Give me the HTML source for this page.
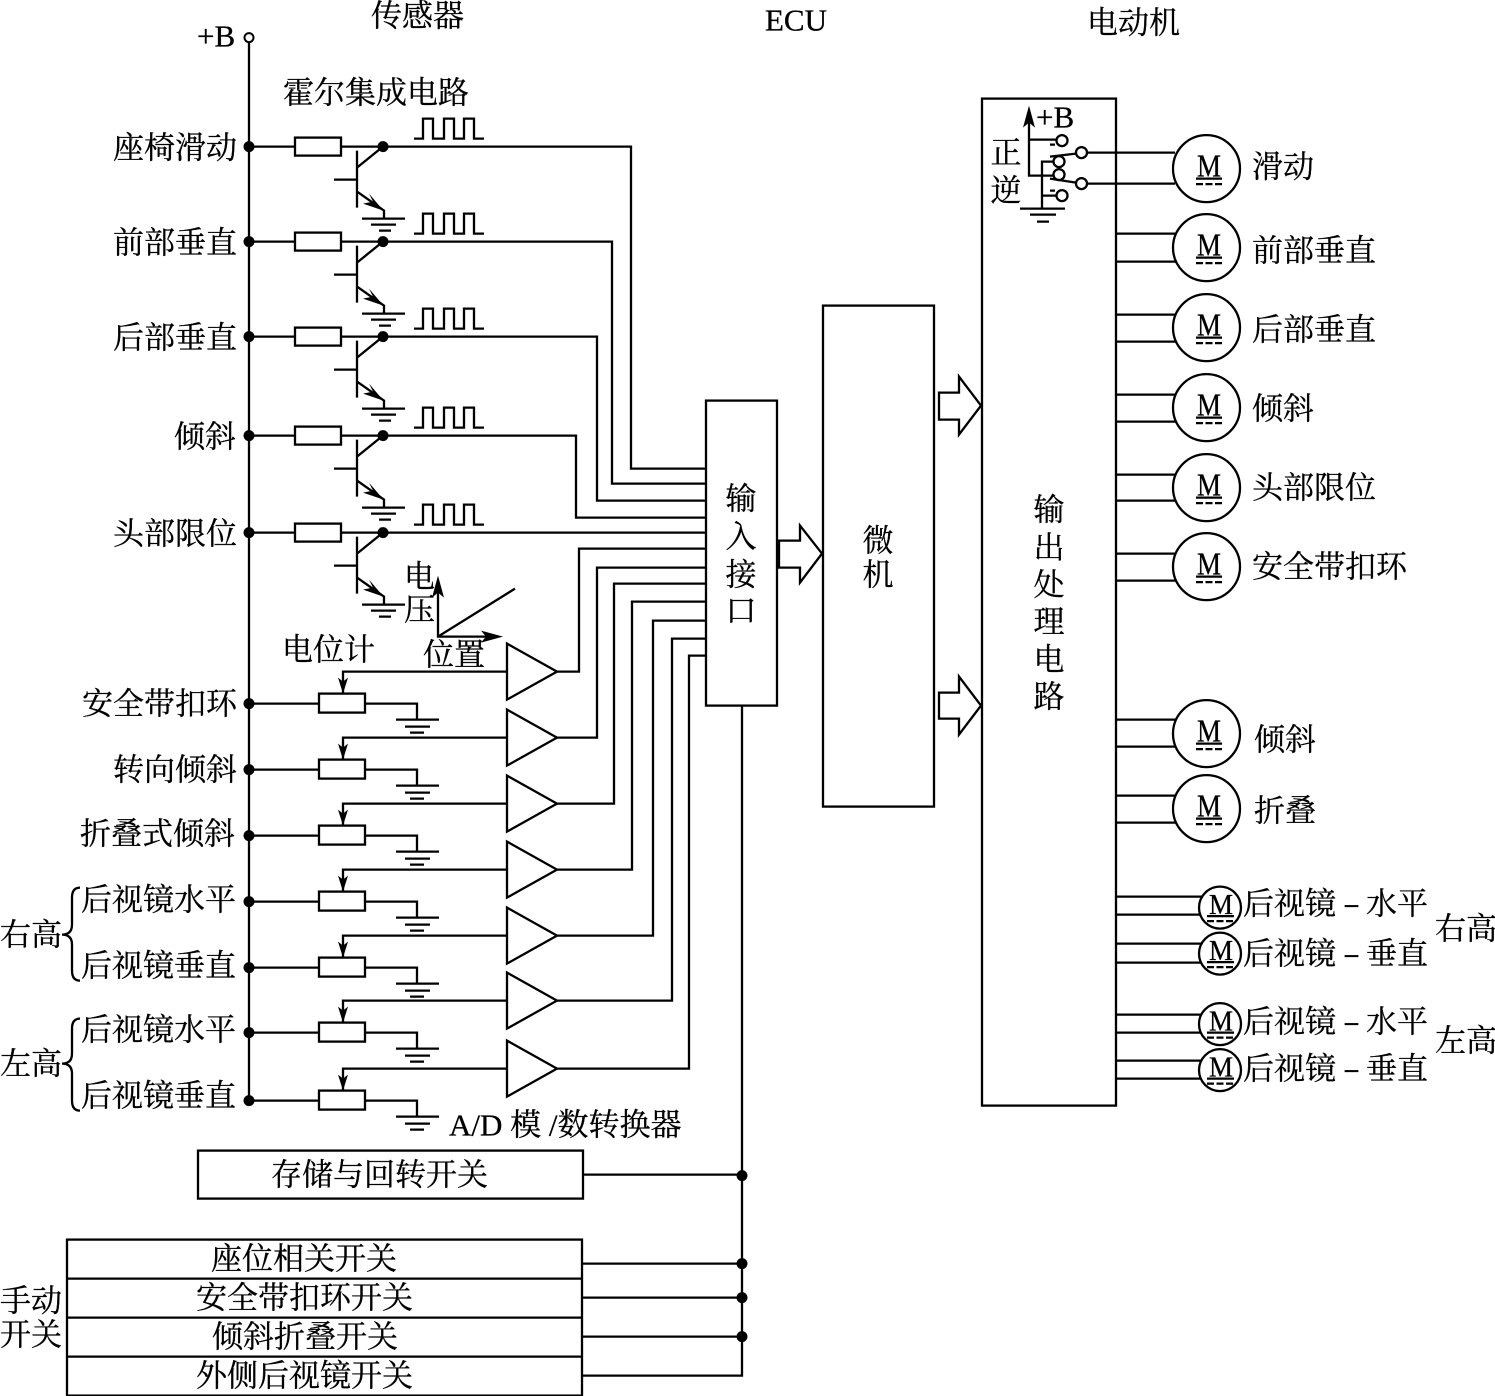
<!DOCTYPE html>
<html lang="zh"><head><meta charset="utf-8"><title>座椅与后视镜控制系统</title>
<style>
html,body{margin:0;padding:0;background:#fff}
svg{display:block}
text{fill:#000;stroke:#000;stroke-width:.3px;font-family:"Liberation Serif","Noto Serif CJK SC",serif;font-size:31px}
.c{text-anchor:middle}
.l{font-family:"Liberation Serif",serif}
.m{font-family:"Liberation Serif",serif;font-size:32px;text-anchor:middle}
.ms{font-family:"Liberation Serif",serif;font-size:28px;text-anchor:middle}
.d{font-family:"Liberation Serif",serif;font-size:26px;font-weight:bold}
</style></head><body>
<svg xmlns="http://www.w3.org/2000/svg" xmlns:xlink="http://www.w3.org/1999/xlink" width="1495" height="1396" viewBox="0 0 1495 1396">
<defs>
<g id="t" fill="none" stroke="#000" stroke-width="2.3">
<path d="M249 0H295M341 0H383"/>
<rect x="295" y="-9" width="46" height="18" fill="#fff"/>
<path d="M357 4V61M334 33H357M357 21L383 0M357 45L384 64V72M362 72H405M371 78H396M379 84H391"/>
<polygon points="383.5,64 369,47 373,55 363,57" fill="#000" stroke="none"/>
<circle cx="383" cy="0" r="5.5" fill="#000" stroke="none"/>
<path d="M414 -8H423V-28H433V-8H444V-28H454V-8H464V-28H474V-8H484"/>
</g>
<g id="p" fill="none" stroke="#000" stroke-width="2.3">
<path d="M249 0H319M365 0H417V16M396 16H439M405 23H430M410 29H424M343 -10V-32H507"/>
<rect x="319" y="-10" width="46" height="19" fill="#fff"/>
<polygon points="343,-10 338,-26 343,-22 348,-26" fill="#000" stroke="none"/>
<polygon points="507,-60 507,-4 557,-32" fill="#fff"/>
</g>
<g id="mb">
<circle r="33.5" fill="#fff" stroke="#000" stroke-width="2.3"/>
<text class="m" x="2.5" y="8" textLength="24" lengthAdjust="spacingAndGlyphs">M</text>
<path d="M-10.5 10H15.5" stroke="#000" stroke-width="2.3"/>
<path d="M-10.5 15.5H15.5" stroke="#000" stroke-width="2.3" stroke-dasharray="7 2.5"/>
</g>
<g id="ms">
<circle r="21" fill="#fff" stroke="#000" stroke-width="2.3"/>
<text class="ms" x="1" y="6.5" textLength="24" lengthAdjust="spacingAndGlyphs">M</text>
<path d="M-13 8.5H14" stroke="#000" stroke-width="2.3"/>
<path d="M-13 13.5H14" stroke="#000" stroke-width="2.3" stroke-dasharray="7 2.5"/>
</g>
</defs>
<rect width="1495" height="1396" fill="#fff"/>
<g transform="translate(0,0.6)">

<!-- bus -->
<path d="M249 42V1100" stroke="#000" stroke-width="2.3" fill="none"/>
<circle cx="249" cy="37" r="4.5" fill="#fff" stroke="#000" stroke-width="2"/>

<use xlink:href="#t" y="146"/><use xlink:href="#t" y="241"/><use xlink:href="#t" y="336"/><use xlink:href="#t" y="435"/><use xlink:href="#t" y="532"/>
<use xlink:href="#p" y="703"/><use xlink:href="#p" y="769"/><use xlink:href="#p" y="835"/><use xlink:href="#p" y="901"/><use xlink:href="#p" y="967"/><use xlink:href="#p" y="1032"/><use xlink:href="#p" y="1100"/>

<g fill="#000">
<circle cx="249" cy="146" r="5.5"/><circle cx="249" cy="241" r="5.5"/><circle cx="249" cy="336" r="5.5"/><circle cx="249" cy="435" r="5.5"/><circle cx="249" cy="532" r="5.5"/>
<circle cx="249" cy="703" r="5.5"/><circle cx="249" cy="769" r="5.5"/><circle cx="249" cy="835" r="5.5"/><circle cx="249" cy="901" r="5.5"/><circle cx="249" cy="967" r="5.5"/><circle cx="249" cy="1032" r="5.5"/><circle cx="249" cy="1100" r="5.5"/>
<circle cx="742" cy="1175" r="5.5"/><circle cx="742" cy="1263" r="5.5"/><circle cx="742" cy="1297" r="5.5"/><circle cx="742" cy="1336" r="5.5"/>
</g>

<!-- wires to input interface -->
<g fill="none" stroke="#000" stroke-width="2.3">
<path d="M383 146H631V468H706"/>
<path d="M383 241H612V483H706"/>
<path d="M383 336H597V500H706"/>
<path d="M383 435H576V517H706"/>
<path d="M383 532H706"/>
<path d="M557 671H579V548H706"/>
<path d="M557 737H597V567H706"/>
<path d="M557 803H614V583H706"/>
<path d="M557 869H632V601H706"/>
<path d="M557 935H653V620H706"/>
<path d="M557 1000H672V638H706"/>
<path d="M557 1068H689V655H706"/>
<rect x="706" y="400" width="71" height="305" fill="#fff"/>
<rect x="823" y="305" width="111" height="501"/>
<rect x="982" y="98" width="134" height="1007"/>
<path d="M779 540H800V525L822 553L800 582V567H779Z"/>
<path d="M939 392H959V376L981 405L959 434V419H939Z"/>
<path d="M939 692H959V676L981 705L959 734V718H939Z"/>
<!-- voltage graph -->
<path d="M438 580V636H498M438 636L515 588"/>
<!-- braces -->
<path d="M80 887Q72 887 72 897V924Q72 934 62 934Q72 934 72 944V970Q72 980 80 980"/>
<path d="M80 1018Q72 1018 72 1028V1053Q72 1063 62 1063Q72 1063 72 1073V1100Q72 1110 80 1110"/>
<!-- switches -->
<rect x="198" y="1150" width="385" height="48"/>
<rect x="67" y="1239" width="515" height="156"/>
<path d="M67 1278H582M67 1317H582M67 1356H582"/>
<path d="M742 705V1375H582M583 1174H742M582 1263H742M582 1297H742M582 1336H742"/>
<!-- relay -->
<path d="M1029 120V175H1054M1029 139H1056M1042 208V161H1053M1042 195H1056M1020 208H1065M1030 214H1056M1037 221H1049"/>
<path d="M1076 153L1050 156M1076 182L1050 178M1050 144H1055M1050 190H1055"/>
<path d="M1087 152H1175M1087 183H1175"/>
<circle cx="1062" cy="140" r="5.5"/><circle cx="1059" cy="161" r="5.5"/><circle cx="1059" cy="174" r="5.5"/><circle cx="1062" cy="195" r="5.5"/>
<circle cx="1081.5" cy="152" r="5.5"/><circle cx="1081.5" cy="183" r="5.5"/>
<!-- motor wires -->
<path d="M1116 233H1178M1116 261H1178M1116 314H1178M1116 341H1178M1116 394H1178M1116 421H1178M1116 474H1178M1116 500H1178M1116 553H1178M1116 580H1178M1116 719H1178M1116 746H1178M1116 795H1178M1116 822H1178"/>
<path d="M1116 896H1204M1116 914H1204M1116 943H1204M1116 962H1204M1116 1014H1204M1116 1032H1204M1116 1060H1204M1116 1078H1204"/>
</g>
<polygon points="1029,105 1023,127 1029,122 1035,127" fill="#000"/>
<polygon points="438,575 432,597 438,592 444,597" fill="#000"/>
<polygon points="503,636 481,630 486,636 481,642" fill="#000"/>

<use xlink:href="#mb" x="1206.5" y="168"/><use xlink:href="#mb" x="1206.5" y="247"/><use xlink:href="#mb" x="1206.5" y="327"/><use xlink:href="#mb" x="1206.5" y="407"/><use xlink:href="#mb" x="1206.5" y="487"/><use xlink:href="#mb" x="1206.5" y="566"/><use xlink:href="#mb" x="1206.5" y="733"/><use xlink:href="#mb" x="1206.5" y="808"/>
<use xlink:href="#ms" x="1220" y="907"/><use xlink:href="#ms" x="1220" y="953"/><use xlink:href="#ms" x="1220" y="1023.5"/><use xlink:href="#ms" x="1220" y="1069.5"/>

<!-- labels -->
<text class="l" x="197" y="46">+B</text>
<text x="371" y="26">传感器</text>
<text class="l" x="765" y="30">ECU</text>
<text x="1087" y="33">电动机</text>
<text x="283" y="103">霍尔集成电路</text>

<text x="113" y="158">座椅滑动</text>
<text x="113" y="253">前部垂直</text>
<text x="113" y="348">后部垂直</text>
<text x="174" y="447">倾斜</text>
<text x="113" y="544">头部限位</text>
<text x="82" y="714">安全带扣环</text>
<text x="113" y="780">转向倾斜</text>
<text x="80" y="844">折叠式倾斜</text>
<text x="81" y="910">后视镜水平</text>
<text x="81" y="976">后视镜垂直</text>
<text x="81" y="1040">后视镜水平</text>
<text x="81" y="1106">后视镜垂直</text>
<text x="0" y="945">右高</text>
<text x="0" y="1074">左高</text>
<text x="282" y="660">电位计</text>
<text x="404" y="587">电</text>
<text x="404" y="620">压</text>
<text x="423" y="665">位置</text>
<text x="449" y="1135">A/D 模 /数转换器</text>

<text x="271" y="1185">存储与回转开关</text>
<text x="211" y="1269">座位相关开关</text>
<text x="196" y="1308">安全带扣环开关</text>
<text x="212" y="1347">倾斜折叠开关</text>
<text x="196" y="1386">外侧后视镜开关</text>
<text x="0" y="1311">手动</text>
<text x="0" y="1345">开关</text>

<text class="c" x="741" y="509">输</text><text class="c" x="741" y="547">入</text><text class="c" x="741" y="585">接</text><text class="c" x="741" y="621">口</text>
<text class="c" x="878" y="551">微</text><text class="c" x="878" y="585">机</text>
<text class="c" x="1049" y="520">输</text><text class="c" x="1049" y="558">出</text><text class="c" x="1049" y="595">处</text><text class="c" x="1049" y="632">理</text><text class="c" x="1049" y="670">电</text><text class="c" x="1049" y="707">路</text>
<text class="c" x="1006" y="163">正</text><text class="c" x="1006" y="201">逆</text>
<text class="l" x="1036" y="127">+B</text>

<text x="1252" y="177">滑动</text>
<text x="1252" y="261">前部垂直</text>
<text x="1252" y="340">后部垂直</text>
<text x="1252" y="419">倾斜</text>
<text x="1252" y="498">头部限位</text>
<text x="1252" y="577">安全带扣环</text>
<text x="1254" y="750">倾斜</text>
<text x="1254" y="821">折叠</text>

<text x="1243" y="914">后视镜</text><text class="d" x="1345" y="912">–</text><text x="1366" y="914">水平</text>
<text x="1243" y="964">后视镜</text><text class="d" x="1345" y="962">–</text><text x="1366" y="964">垂直</text>
<text x="1243" y="1032">后视镜</text><text class="d" x="1345" y="1030">–</text><text x="1366" y="1032">水平</text>
<text x="1243" y="1079">后视镜</text><text class="d" x="1345" y="1077">–</text><text x="1366" y="1079">垂直</text>
<text x="1435" y="939">右高</text>
<text x="1435" y="1051">左高</text>
</g>
</svg>
</body></html>
